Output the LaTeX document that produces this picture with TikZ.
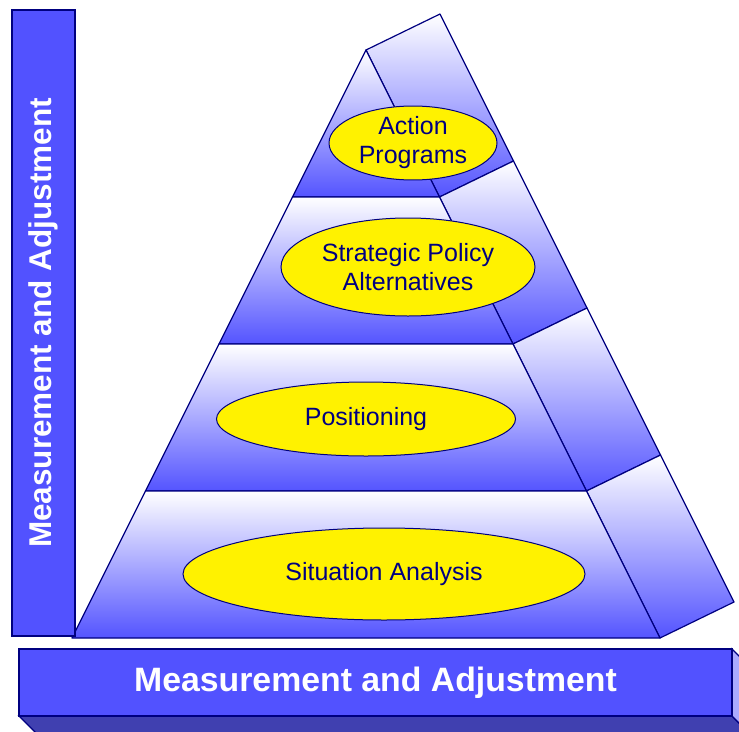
\documentclass[tikz,border=0pt]{standalone}
\usepackage{fontspec}
\setmainfont{Liberation Sans}
\usepackage{tikz}
\usetikzlibrary{shapes.geometric}
\usetikzlibrary{calc}
\usetikzlibrary{positioning}

\definecolor{navy}{RGB}{0,0,128}
\definecolor{pyrblue}{RGB}{84,84,255}
\definecolor{barblue}{RGB}{82,82,255}
\definecolor{bardark}{RGB}{64,64,176}
\definecolor{barlight}{RGB}{170,170,255}

\tikzset{
	tierface/.style={draw=navy, line width=1.2pt, line join=round, top color=white, bottom color=pyrblue},
	goal/.style={ellipse, draw=navy, line width=1pt, fill=yellow, text=navy, align=center, inner sep=0pt, font=\fontsize{25}{29}\selectfont},
	barbox/.style={draw=navy, line width=1.2pt, fill=barblue, text=white, inner sep=0pt},
}

\begin{document}
\begin{tikzpicture}[x=1pt,y=-1pt]
	\useasboundingbox (0,0) rectangle (739,731);

	% pyramid corners
	\coordinate (apex) at (366,50);
	\coordinate (lb) at (72,638);
	\coordinate (rb) at (660,638);
	\foreach \k in {0,...,4} {
		\coordinate (L\k) at ($(apex)!{\k/4}!(lb)$);
		\coordinate (R\k) at ($(apex)!{\k/4}!(rb)$);
	}

	% tiers, front and side
	\foreach \j/\k in {0/1,1/2,2/3,3/4} {
		\draw[tierface] (R\j) -- ++(74,-36) -- ($(R\k)+(74,-36)$) -- (R\k) -- cycle;
		\draw[tierface] (L\j) -- (L\k) -- (R\k) -- (R\j) -- cycle;
	}

	\node[goal, minimum width=168pt, minimum height=68pt] (action) at (413,143) {Action\\Programs};
	\node[goal, minimum width=254pt, minimum height=98pt] (policy) at (408,267) {Strategic Policy\\Alternatives};
	\node[goal, minimum width=299pt, minimum height=74pt] (positioning) at (366,419) {Positioning};
	\node[goal, minimum width=402pt, minimum height=92pt] (situation) at (384,574) {Situation Analysis};

	% left bar
	\node[barbox, minimum width=626pt, minimum height=63pt, rotate=90, font=\fontsize{31.5}{36}\bfseries] (vbar) at (43.5,323) {Measurement and Adjustment};

	% bottom bar
	\draw[draw=navy, line width=1.2pt, fill=bardark] (19,716) -- (732,716) -- ++(20,20) -- (39,736) -- cycle;
	\draw[draw=navy, line width=1.2pt, fill=barlight] (732,649) -- ++(20,20) -- (752,736) -- (732,716) -- cycle;
	\node[barbox, minimum width=713pt, minimum height=67pt, font=\fontsize{33.8}{38}\bfseries] (hbar) at (375.5,682.5) {Measurement and Adjustment};
\end{tikzpicture}
\end{document}
